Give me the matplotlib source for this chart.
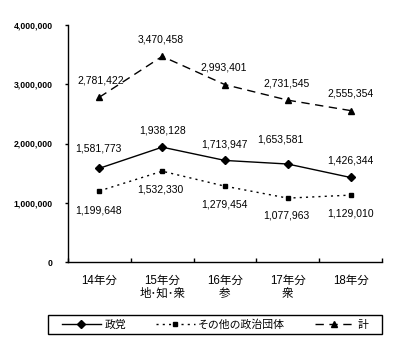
import matplotlib
matplotlib.use("Agg")
import matplotlib.pyplot as plt
from matplotlib.patches import Rectangle

plt.rcParams['font.family'] = ['Liberation Sans', 'Noto Sans CJK JP', 'DejaVu Sans']

# -----------------------------
# Data
# -----------------------------
years = ["14年分", "15年分\n地･知･衆", "16年分\n参", "17年分\n衆", "18年分"]
seito = [1581773, 1938128, 1713947, 1653581, 1426344]
sonota = [1199648, 1532330, 1279454, 1077963, 1129010]
total = [2781422, 3470458, 2993401, 2731545, 2555354]

W, H = 413, 343
fig = plt.figure(figsize=(W / 100, H / 100), dpi=100)
ax = fig.add_axes([68 / W, (H - 262) / H, (382 - 68) / W, (262 - 25) / H])

xs = [i + 0.5 for i in range(len(years))]

l1, = ax.plot(xs, seito, color="black", lw=1.0, marker="D", ms=3.8, label="政党")
l2, = ax.plot(xs, sonota, color="black", lw=1.0, ls=(0, (1.5, 3)), marker="s", ms=3.5,
              label="その他の政治団体")
l3, = ax.plot(xs, total, color="black", lw=1.0, ls=(0, (6, 4)), marker="^", ms=5,
              label="計")

# value labels
for x, v, dx in zip(xs, total, [1, -1, -1, -1, 0]):
    ax.annotate(f"{v:,}", (x, v), xytext=(dx, 17), textcoords="offset pixels",
                ha="center", va="center", fontsize=7.5)
for x, v, dx, dy in zip(xs, seito, [-1, 0, -1, -7, 0], [20, 17, 16, 25, 17]):
    ax.annotate(f"{v:,}", (x, v), xytext=(dx, dy), textcoords="offset pixels",
                ha="center", va="center", fontsize=7.5)
for x, v, dx, dy in zip(xs, sonota, [-1, -2, -1, -1, 0], [-20, -18, -18, -17, -18]):
    ax.annotate(f"{v:,}", (x, v), xytext=(dx, dy), textcoords="offset pixels",
                ha="center", va="center", fontsize=7.5)

# -----------------------------
# Axes styling
# -----------------------------
ax.set_xlim(0, len(years))
ax.set_ylim(0, 4000000)
ax.set_yticks([0, 1000000, 2000000, 3000000, 4000000])
ax.set_yticklabels(["0", "1,000,000", "2,000,000", "3,000,000", "4,000,000"],
                   fontsize=6.2, fontweight="bold")
ax.tick_params(axis="y", direction="out", length=2, width=1, pad=9)

ax.set_xticks(range(len(years) + 1))
ax.set_xticklabels([])
ax.tick_params(axis="x", which="major", direction="in", length=3, width=1)
ax.set_xticks(xs, minor=True)
ax.set_xticklabels(years, minor=True, fontsize=8.3, linespacing=1.15)
ax.tick_params(axis="x", which="minor", length=0, pad=9)

for s in ["top", "right"]:
    ax.spines[s].set_visible(False)
for s in ["left", "bottom"]:
    ax.spines[s].set_linewidth(1.0)

# -----------------------------
# Legend
# -----------------------------
fig.patches.append(Rectangle((48 / W, (H - 334) / H), (382 - 48) / W, 19 / H,
                             transform=fig.transFigure, fill=False,
                             edgecolor="black", lw=1.0))
fig.legend(handles=[l1, l2, l3], loc="center", bbox_to_anchor=(215 / W, (H - 324.5) / H),
           ncol=3, frameon=False, fontsize=7.8, handlelength=3.6, handletextpad=0.35,
           columnspacing=2.7, borderpad=0)

fig.savefig("out.png", dpi=100)
